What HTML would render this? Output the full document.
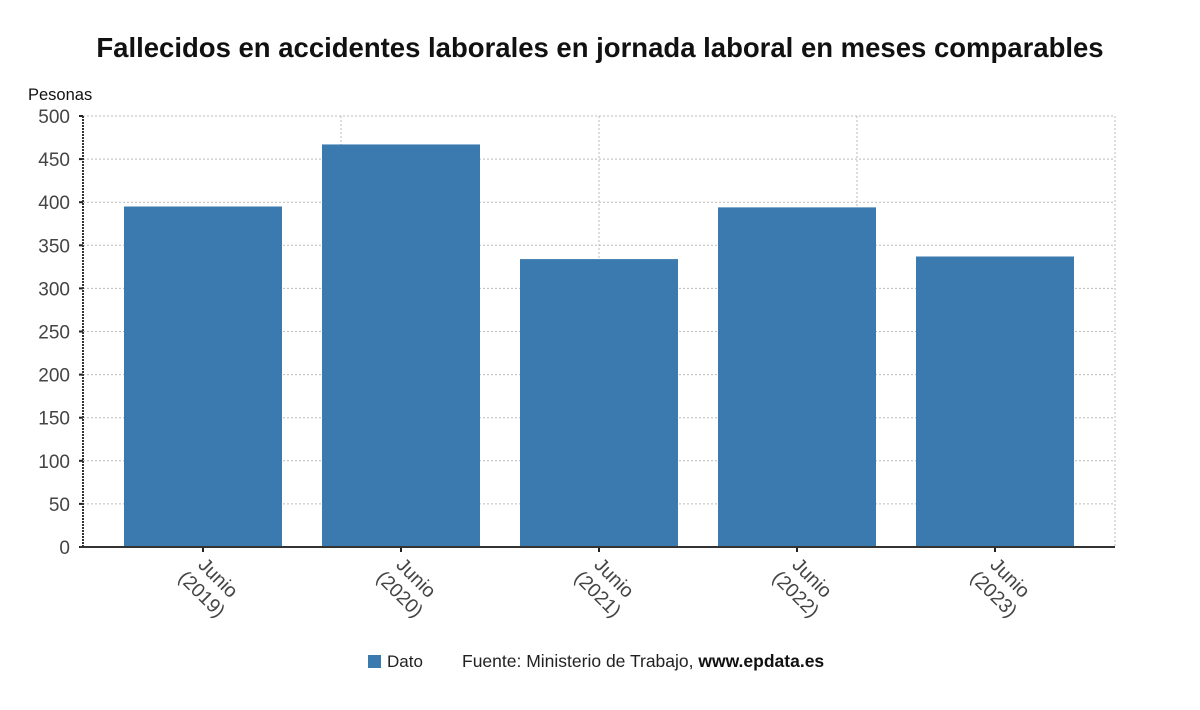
<!DOCTYPE html>
<html><head><meta charset="utf-8"><style>
body{margin:0;background:#fff;font-family:"Liberation Sans","DejaVu Sans",sans-serif}
</style></head><body>
<svg width="1200" height="705" viewBox="0 0 1200 705" xmlns="http://www.w3.org/2000/svg">
<text x="600" y="57" text-anchor="middle" font-size="27.5" font-weight="bold" fill="#111">Fallecidos en accidentes laborales en jornada laboral en meses comparables</text>
<text x="28" y="100" font-size="16.5" fill="#111">Pesonas</text>
<g id="grid"></g><g id="bars"></g><g id="axes"></g>
<g>
<rect x="368" y="655" width="13" height="13" fill="#3a7aaf"/>
<text x="387" y="667" font-size="17" fill="#222">Dato</text>
<text x="462" y="667" font-size="17.5" fill="#222">Fuente: Ministerio de Trabajo, <tspan font-weight="bold" fill="#111">www.epdata.es</tspan></text>
</g>
</svg>
<script>
const categories=["Junio","Junio","Junio","Junio","Junio"];
const years=["(2019)","(2020)","(2021)","(2022)","(2023)"];
const values=[395,467,334,394,337];
const yTicks=[0,50,100,150,200,250,300,350,400,450,500];
const NS="http://www.w3.org/2000/svg";
const X0=83,X1=1115,Y0=547,Y1=116,yMax=500;
const y=v=>Y0-(v/yMax)*(Y0-Y1);
const step=198,first=203;
const x=i=>first+i*step;
function mk(t,a,p){const e=document.createElementNS(NS,t);for(const k in a)e.setAttribute(k,a[k]);p.appendChild(e);return e;}
const grid=document.getElementById('grid'),bars=document.getElementById('bars'),axes=document.getElementById('axes');
yTicks.forEach(t=>{
 const l=mk('line',{x1:X0,x2:X1,y1:y(t),y2:y(t),stroke:'#bbb','stroke-dasharray':'2,2'},grid);
 
 
 const tx=mk('text',{x:70,y:y(t)+7,'text-anchor':'end','font-size':19,fill:'#444'},axes);
 tx.textContent=t;
 
 
 mk('line',{x1:X0-4,x2:X0,y1:y(t),y2:y(t),stroke:'#222','stroke-width':2},axes);
});
[341,599,857,1115].forEach(gx=>{
 const l=mk('line',{x1:gx,x2:gx,y1:Y1,y2:Y0,stroke:'#bbb','stroke-dasharray':'2,2'},grid);
 
 
});
values.forEach((v,i)=>{
 const r=mk('rect',{x:x(i)-79,y:y(v),width:158,height:Y0-y(v),fill:'#3a7aaf'},bars);
 
 
 mk('line',{x1:x(i),x2:x(i),y1:Y0,y2:Y0+5,stroke:'#222','stroke-width':2},axes);
 const g=mk('g',{transform:`translate(${x(i)},${Y0+5}) rotate(45)`},axes);
 const t1=mk('text',{x:29,y:14,'text-anchor':'middle','font-size':19.5,fill:'#444'},g);
 t1.textContent=categories[i];
 
 
 const t2=mk('text',{x:29,y:37,'text-anchor':'middle','font-size':19.5,fill:'#444'},g);
 t2.textContent=years[i];
 
 
});
const ya=mk('line',{x1:X0,x2:X0,y1:Y1,y2:Y0,stroke:'#333','stroke-width':2,'stroke-dasharray':'2,1'},axes);


const xa=mk('line',{x1:X0-3,x2:X1,y1:Y0,y2:Y0,stroke:'#333','stroke-width':2},axes);


</script>
</body></html>
